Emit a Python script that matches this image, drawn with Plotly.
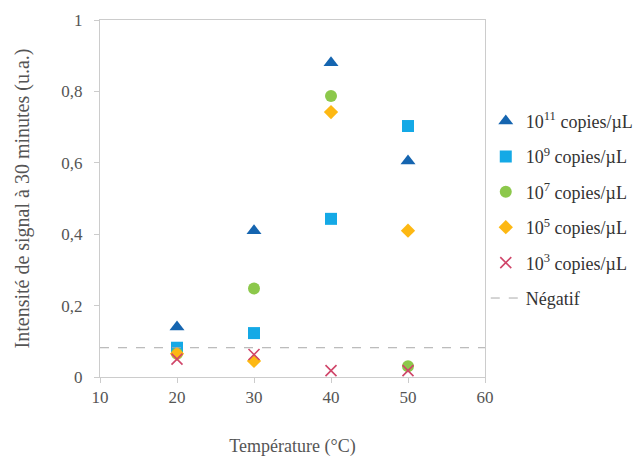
import plotly.graph_objects as go

temps = [20, 30, 40, 50]
s11 = [0.14, 0.41, 0.88, 0.605]
s9 = [0.082, 0.123, 0.443, 0.703]
s7 = [0.065, 0.248, 0.787, 0.03]
s5 = [0.065, 0.045, 0.742, 0.41]
s3 = [0.05, 0.063, 0.018, 0.018]
negatif = 0.082
neg_x = [10, 60]

names = ["10<sup>11</sup> copies/µL", "10<sup>9</sup> copies/µL", "10<sup>7</sup> copies/µL",
         "10<sup>5</sup> copies/µL", "10<sup>3</sup> copies/µL"]
series = [s11, s9, s7, s5, s3]
symbols = ["triangle-up", "square", "circle", "diamond", "x-thin"]
colors = ["#1565b0", "#14a9e6", "#8cc84b", "#fdb813", "#d0466a"]
sizes = [13, 12, 12, 11, 11]

fig = go.Figure()
for i, (n, s, sym, c, sz) in enumerate(zip(names, series, symbols, colors, sizes)):
    marker = dict(symbol=sym, color=c, size=sz)
    if sym == "x-thin":
        marker["line"] = dict(color=c, width=1.6)
    fig.add_trace(go.Scatter(x=temps, y=s, mode="markers", name=n, marker=marker,
                             legendgroup=str(i)))
fig.add_trace(go.Scatter(x=neg_x, y=[negatif, negatif], mode="lines", name="Négatif",
                         line=dict(color="#aaaaaa", width=1, dash="dash"), legendgroup="neg"))

font = "Liberation Serif"
fig.update_layout(
    width=633, height=453,
    margin=dict(l=92, r=156, t=12, b=84, autoexpand=False),
    paper_bgcolor="white", plot_bgcolor="white",
    separators=", ",
    font=dict(family=font, size=17, color="#555555"),
    showlegend=True,
    legend=dict(x=1.002, y=0.768, xanchor="left", yanchor="top", tracegroupgap=9,
                font=dict(family=font, size=18, color="#333333"), bgcolor="rgba(0,0,0,0)",
                itemwidth=30),
    xaxis=dict(range=[10, 60], dtick=10, showgrid=False, zeroline=False,
               showline=True, linecolor="#cccccc", linewidth=1, mirror=True,
               ticks="outside", tickcolor="#cccccc", ticklen=5,
               title=dict(text="Température (°C)", font=dict(size=18, color="#555555"), standoff=32)),
    yaxis=dict(range=[0, 1], dtick=0.2, showgrid=False, zeroline=False,
               showline=True, linecolor="#cccccc", linewidth=1, mirror=True,
               ticks="outside", tickcolor="#cccccc", ticklen=5, ticklabelstandoff=8,
               tickformat="~g",
               title=dict(text="Intensité de signal à 30 minutes (u.a.)", font=dict(size=20, color="#555555"), standoff=26)),
)
fig.write_html("out.html")
